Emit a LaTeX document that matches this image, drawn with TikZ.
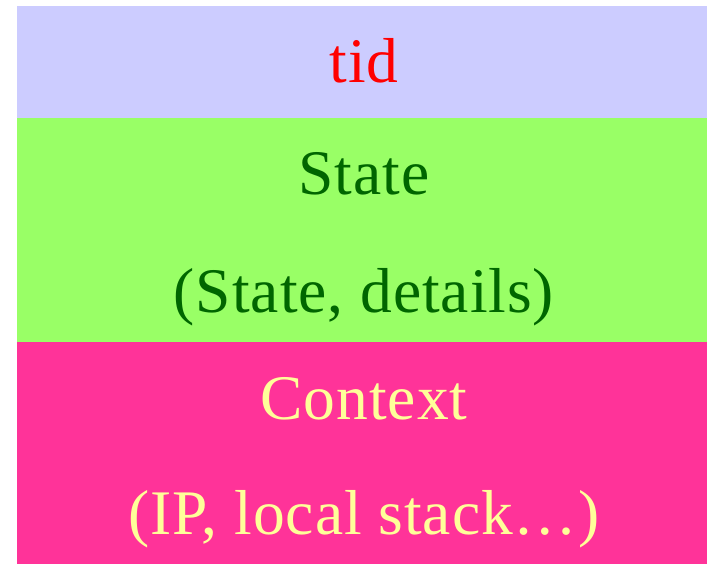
\documentclass[tikz,border=0pt]{standalone}
\usepackage{fontspec}
\setmainfont{Liberation Serif}[LetterSpace=1.5]
\definecolor{bandtop}{HTML}{CCCCFF}
\definecolor{bandmid}{HTML}{99FF66}
\definecolor{bandlow}{HTML}{FF3399}
\definecolor{tidred}{HTML}{FF0000}
\definecolor{stategreen}{HTML}{006600}
\definecolor{ctxyellow}{HTML}{FFFF99}
\tikzset{
  label text/.style={anchor=base, inner sep=0pt, font=\fontsize{63.5}{70}\selectfont},
}
\begin{document}
\begin{tikzpicture}[x=1pt,y=1pt]
  \useasboundingbox (0,0) rectangle (707,564);
  % three stacked bands
  \fill[bandtop] (17,446) rectangle (707,558);
  \fill[bandmid] (17,222) rectangle (707,446);
  \fill[bandlow] (17,0) rectangle (707,222);
  % band labels
  \node[label text, text=tidred] (tid) at (364,481) {tid};
  \node[label text, text=stategreen] (state) at (364,369) {State};
  \node[label text, text=stategreen] (statedet) at (364,251) {(State, details)};
  \node[label text, text=ctxyellow] (ctx) at (364,144) {Context};
  \node[label text, text=ctxyellow] (ctxdet) at (364,29) {(IP, local stack…)};
\end{tikzpicture}
\end{document}
